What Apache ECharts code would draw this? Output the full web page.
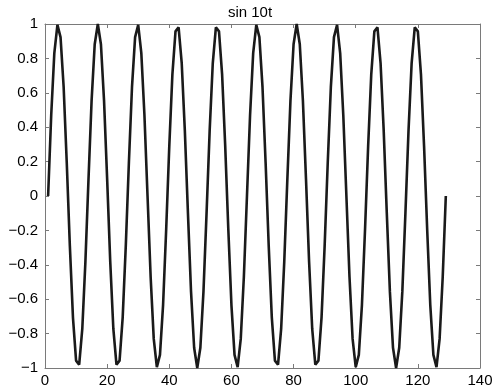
<!DOCTYPE html>
<html>
<head>
<meta charset="utf-8">
<script src="https://cdn.jsdelivr.net/npm/echarts@6/dist/echarts.min.js"></script>
<style>
html,body{margin:0;padding:0;background:#fff;}
#chart{width:500px;height:391px;}
</style>
</head>
<body>
<div id="chart"></div>
<script>
var titleText = 'sin 10t';
var xValues = [
  1,2,3,4,5,6,7,8,9,10,11,12,13,14,15,16,17,18,19,20,21,22,23,24,25,26,27,28,29,30,31,32,
  33,34,35,36,37,38,39,40,41,42,43,44,45,46,47,48,49,50,51,52,53,54,55,56,57,58,59,60,61,62,63,64,
  65,66,67,68,69,70,71,72,73,74,75,76,77,78,79,80,81,82,83,84,85,86,87,88,89,90,91,92,93,94,95,96,
  97,98,99,100,101,102,103,104,105,106,107,108,109,110,111,112,113,114,115,116,117,118,119,120,121,122,123,124,125,126,127,128,
  129
];
var yValues = [
  0, 0.471, 0.831, 0.995, 0.924, 0.634, 0.195, -0.290, -0.707, -0.957, -0.981, -0.773, -0.383, 0.098, 0.556, 0.882,
  1.000, 0.882, 0.556, 0.098, -0.383, -0.773, -0.981, -0.957, -0.707, -0.290, 0.195, 0.634, 0.924, 0.995, 0.831, 0.471,
  0, -0.471, -0.831, -0.995, -0.924, -0.634, -0.195, 0.290, 0.707, 0.957, 0.981, 0.773, 0.383, -0.098, -0.556, -0.882,
  -1.000, -0.882, -0.556, -0.098, 0.383, 0.773, 0.981, 0.957, 0.707, 0.290, -0.195, -0.634, -0.924, -0.995, -0.831, -0.471,
  0, 0.471, 0.831, 0.995, 0.924, 0.634, 0.195, -0.290, -0.707, -0.957, -0.981, -0.773, -0.383, 0.098, 0.556, 0.882,
  1.000, 0.882, 0.556, 0.098, -0.383, -0.773, -0.981, -0.957, -0.707, -0.290, 0.195, 0.634, 0.924, 0.995, 0.831, 0.471,
  0, -0.471, -0.831, -0.995, -0.924, -0.634, -0.195, 0.290, 0.707, 0.957, 0.981, 0.773, 0.383, -0.098, -0.556, -0.882,
  -1.000, -0.882, -0.556, -0.098, 0.383, 0.773, 0.981, 0.957, 0.707, 0.290, -0.195, -0.634, -0.924, -0.995, -0.831, -0.471,
  0
];
var xTicks = [0, 20, 40, 60, 80, 100, 120, 140];
var yTicks = [-1, -0.8, -0.6, -0.4, -0.2, 0, 0.2, 0.4, 0.6, 0.8, 1];

var data = xValues.map(function (x, i) { return [x, yValues[i]]; });
var FONT = '"Liberation Sans", Arial, Helvetica, sans-serif';
var AX = '#7a7a7a';

function fmtY(v) {
  var r = Math.round(v * 10) / 10;
  var s = (r === 0 || Math.abs(r) === 1) ? String(Math.round(r)) : r.toFixed(1);
  return s.replace('-', '\u2212');
}

function axisCommon() {
  return {
    axisLine: { show: true, onZero: false, lineStyle: { color: AX, width: 1 } },
    axisTick: { show: true, inside: true, length: 4, lineStyle: { color: AX } },
    splitLine: { show: false }
  };
}

var chart = echarts.init(document.getElementById('chart'), null, { renderer: 'canvas' });
chart.setOption({
  animation: false,
  backgroundColor: '#fff',
  title: {
    text: titleText, left: 'center', top: 5, padding: 0,
    textStyle: { fontFamily: FONT, fontSize: 15, fontWeight: 'normal', color: '#000' }
  },
  grid: { left: 45, right: 20, top: 24, bottom: 23, containLabel: false },
  xAxis: [
    Object.assign({
      type: 'value', position: 'bottom', min: xTicks[0], max: xTicks[xTicks.length - 1], interval: 20,
      axisLabel: { color: '#000', fontFamily: FONT, fontSize: 15, margin: 5 }
    }, axisCommon()),
    Object.assign({
      type: 'value', position: 'top', min: xTicks[0], max: xTicks[xTicks.length - 1], interval: 20,
      axisLabel: { show: false }
    }, axisCommon())
  ],
  yAxis: [
    Object.assign({
      type: 'value', position: 'left', min: yTicks[0], max: yTicks[yTicks.length - 1], interval: 0.2,
      axisLabel: { color: '#000', fontFamily: FONT, fontSize: 15, margin: 7, formatter: fmtY }
    }, axisCommon()),
    Object.assign({
      type: 'value', position: 'right', min: yTicks[0], max: yTicks[yTicks.length - 1], interval: 0.2,
      axisLabel: { show: false }
    }, axisCommon())
  ],
  series: [{
    type: 'line', data: data, xAxisIndex: 0, yAxisIndex: 0,
    showSymbol: false, symbol: 'none',
    lineStyle: { color: '#1a1a1a', width: 2.6 },
    clip: true
  }]
});
</script>
</body>
</html>
